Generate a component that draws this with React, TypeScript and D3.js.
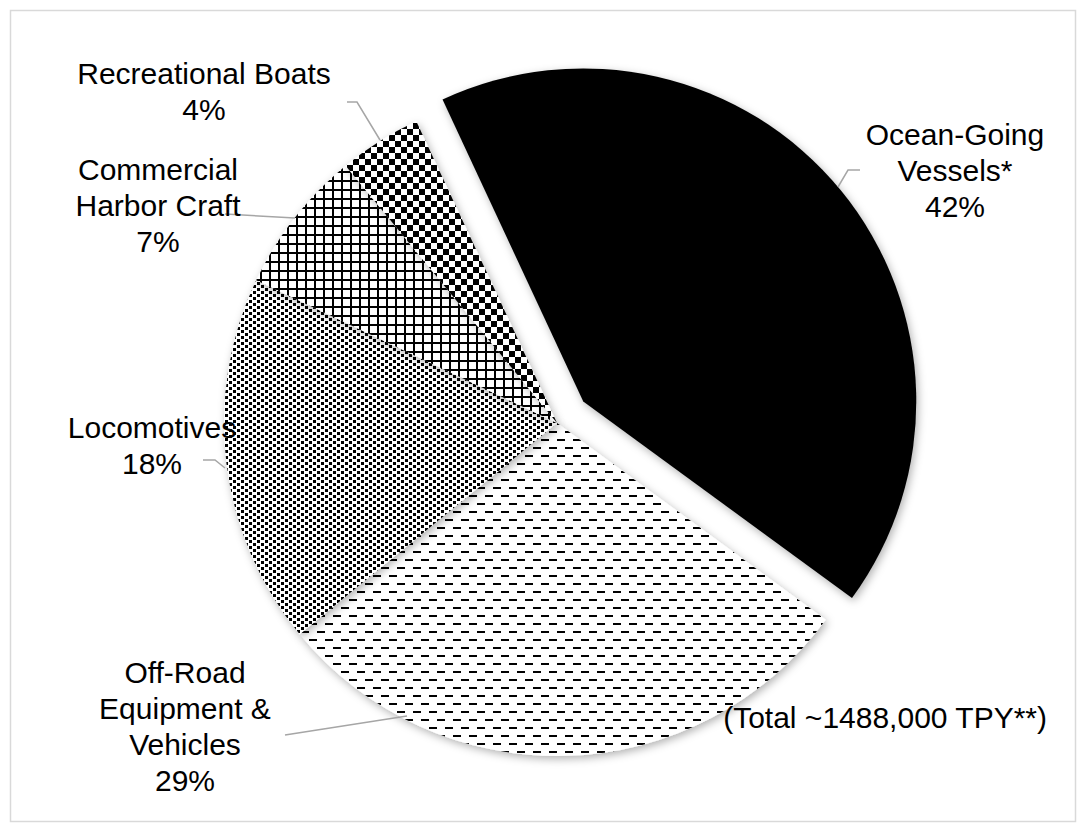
import React from "react";
import * as d3 from "d3";

const categories = [
  "Ocean-Going Vessels*",
  "Off-Road Equipment & Vehicles",
  "Locomotives",
  "Commercial Harbor Craft",
  "Recreational Boats",
];
const values = [42, 29, 18, 7, 4];
const labelLines = [
  ["Ocean-Going", "Vessels*"],
  ["Off-Road", "Equipment &", "Vehicles"],
  ["Locomotives"],
  ["Commercial", "Harbor Craft"],
  ["Recreational Boats"],
];
const totalNote = "(Total ~1488,000 TPY**)";
const explodedIndex = 0;

const W = 1086;
const H = 832;
const CX = 557;
const CY = 423;
const R = 333;
const EXPLODE = 34;
const START = (-25 * Math.PI) / 180;
const FONT = 30;
const LH = 36;

const fills = ["#000", "url(#pDash)", "url(#pDots)", "url(#pGrid)", "url(#pCheck)"];

// label layout: [centerX, firstBaseline]
const labelPos: [number, number][] = [
  [955, 145],
  [185, 683],
  [152, 438],
  [158, 180],
  [204, 84],
];
const leaders: [number, number][][] = [
  [[838, 187], [848, 170], [860, 170]],
  [[407, 716], [285, 735]],
  [[225, 468], [215, 460], [203, 460]],
  [[295, 218], [225, 214]],
  [[380, 140], [357, 102], [347, 102]],
];

export default function App() {
  const pie = d3
    .pie<number>()
    .sort(null)
    .startAngle(START)
    .endAngle(START + 2 * Math.PI);
  const arcs = pie(values);
  const arcGen = d3.arc<d3.PieArcDatum<number>>().innerRadius(0).outerRadius(R);
  const line = d3.line();

  return (
    <div style={{ position: "fixed", left: 0, top: 0, width: W, height: H, background: "#fff" }}>
      <svg width={W} height={H} style={{ display: "block" }} fontFamily="'Liberation Sans', Arial, sans-serif">
        <defs>
          <filter id="shadow" x="-20%" y="-20%" width="140%" height="140%">
            <feGaussianBlur in="SourceAlpha" stdDeviation="4" />
            <feOffset dx="2" dy="3" result="ob" />
            <feFlood floodColor="#000" floodOpacity="0.3" />
            <feComposite in2="ob" operator="in" />
            <feMerge>
              <feMergeNode />
              <feMergeNode in="SourceGraphic" />
            </feMerge>
          </filter>
          <pattern id="pDash" patternUnits="userSpaceOnUse" width={16} height={16}>
            <rect width={16} height={16} fill="#fff" />
            <rect x={0} y={0} width={8} height={2} fill="#000" />
            <rect x={8} y={8} width={8} height={2} fill="#000" />
          </pattern>
          <pattern id="pDots" patternUnits="userSpaceOnUse" width={8} height={6}>
            <rect width={8} height={6} fill="#fff" />
            <rect x={0} y={0} width={3} height={3} fill="#000" />
            <rect x={4} y={3} width={3} height={3} fill="#000" />
          </pattern>
          <pattern id="pGrid" patternUnits="userSpaceOnUse" width={9} height={9}>
            <rect width={9} height={9} fill="#fff" />
            <rect x={0} y={0} width={9} height={2} fill="#000" />
            <rect x={0} y={0} width={2} height={9} fill="#000" />
          </pattern>
          <pattern id="pCheck" patternUnits="userSpaceOnUse" width={12} height={12}>
            <rect width={12} height={12} fill="#fff" />
            <rect x={0} y={0} width={6} height={6} fill="#000" />
            <rect x={6} y={6} width={6} height={6} fill="#000" />
          </pattern>
        </defs>
        <rect x={0} y={0} width={W} height={H} fill="#fff" />
        <rect x={10.5} y={10.5} width={W - 21} height={H - 21} fill="none" stroke="#d9d9d9" strokeWidth={1.5} />
        <g transform={`translate(${CX},${CY})`}>
          {arcs.map((a, i) => {
            const mid = (a.startAngle + a.endAngle) / 2;
            const off = i === explodedIndex ? EXPLODE : 0;
            const dx = off * Math.sin(mid);
            const dy = -off * Math.cos(mid);
            return (
              <path
                key={categories[i]}
                d={arcGen(a) || ""}
                transform={`translate(${dx},${dy})`}
                fill={fills[i]}
                filter="url(#shadow)"
              />
            );
          })}
        </g>
        {leaders.map((pts, i) => (
          <path key={"l" + i} d={line(pts as [number, number][]) || ""} fill="none" stroke="#a6a6a6" strokeWidth={1.5} />
        ))}
        {labelLines.map((lines, i) => {
          const [x, y] = labelPos[i];
          const all = [...lines, `${values[i]}%`];
          return (
            <text key={"t" + i} x={x} y={y} textAnchor="middle" fontSize={FONT} fill="#000">
              {all.map((s, j) => (
                <tspan key={j} x={x} y={y + j * LH}>
                  {s}
                </tspan>
              ))}
            </text>
          );
        })}
        <text x={1047} y={728} textAnchor="end" fontSize={FONT} fill="#000">
          {totalNote}
        </text>
      </svg>
    </div>
  );
}
